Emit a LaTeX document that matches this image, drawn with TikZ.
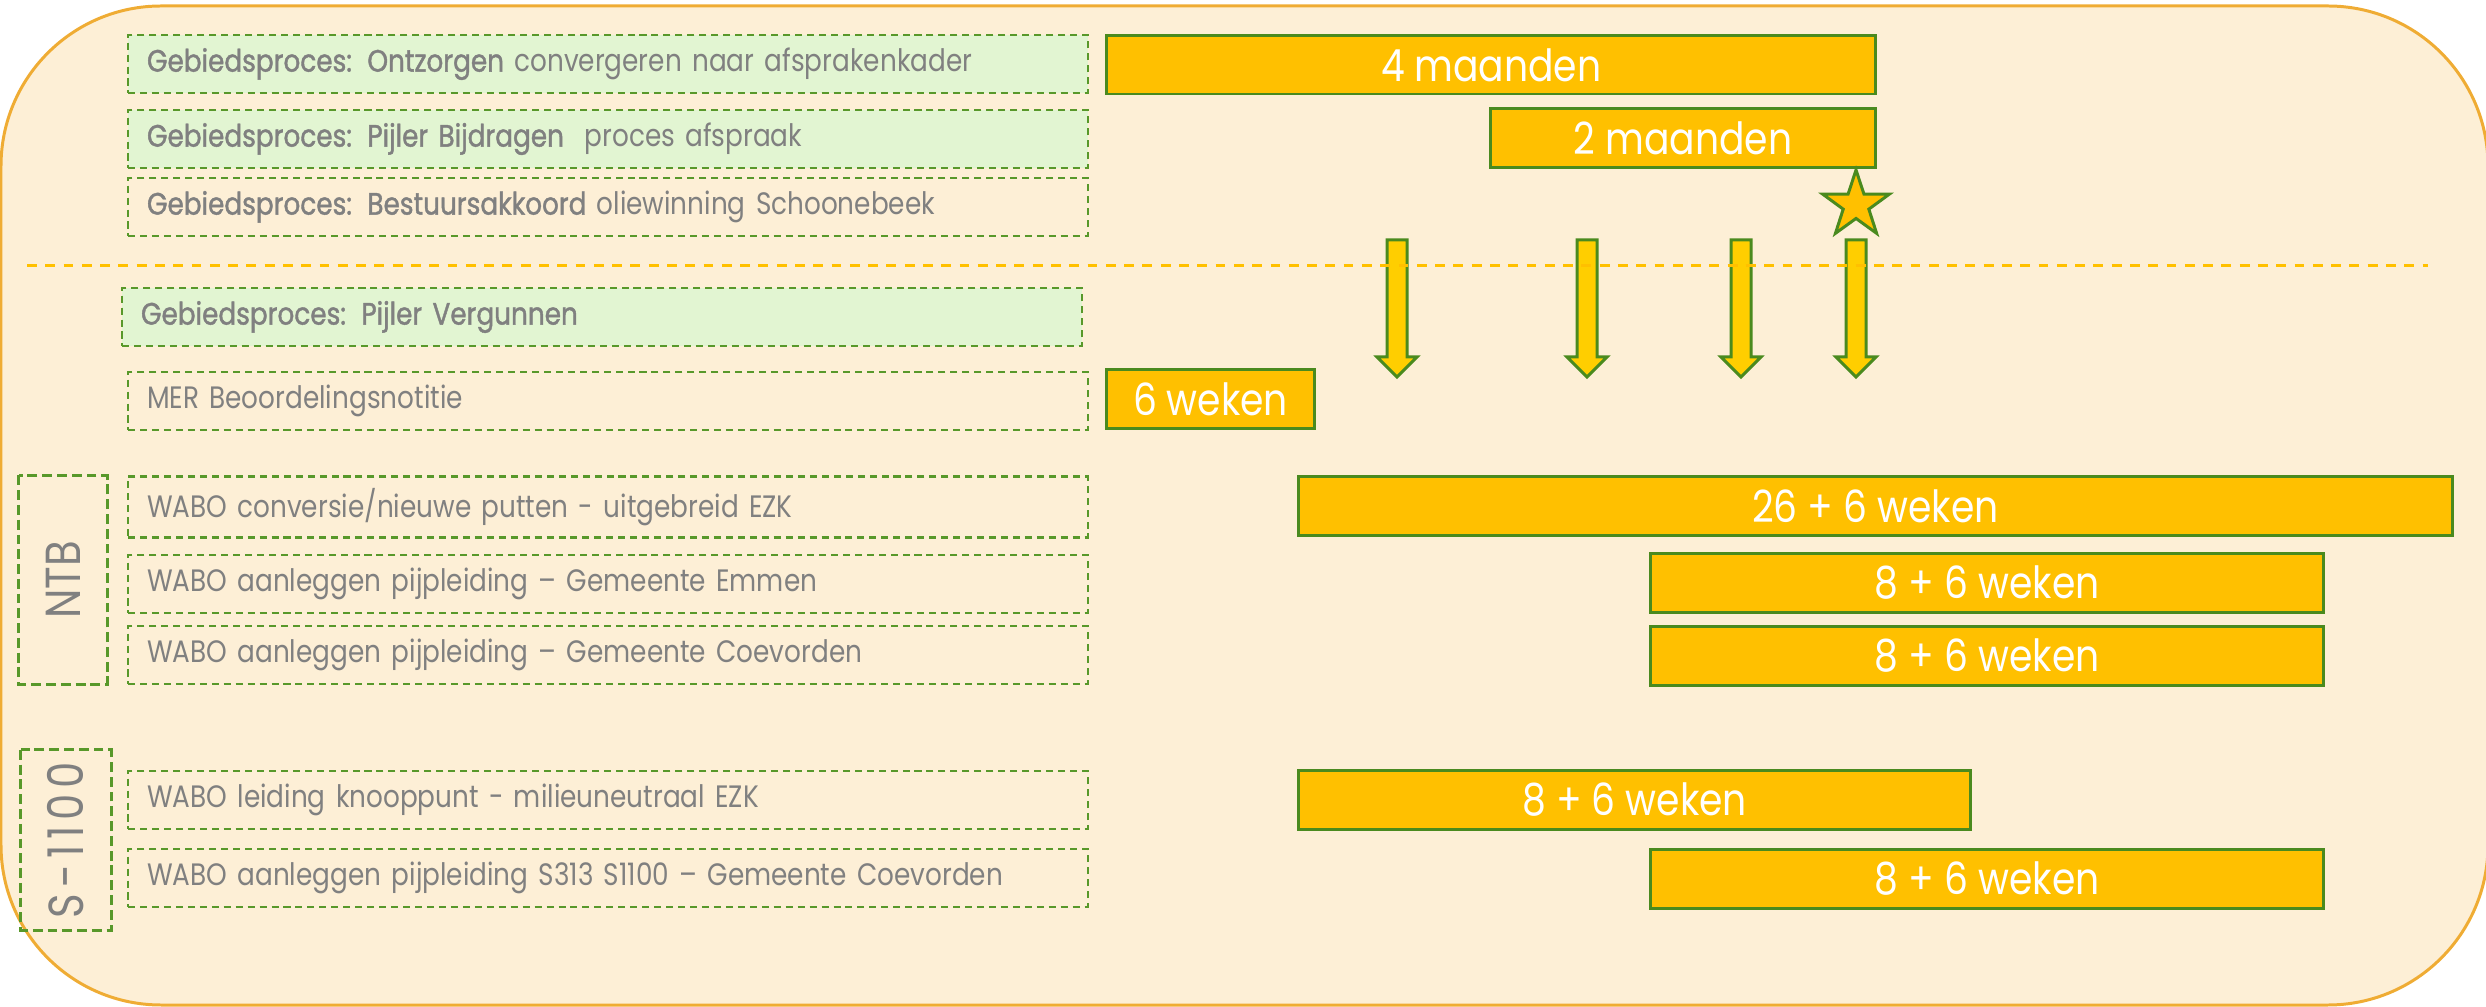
\documentclass[tikz,border=0pt]{standalone}
\usepackage{fontspec}
\setmainfont{Poppins}[FakeStretch=0.85, BoldFont={Poppins}, BoldFeatures={FakeBold=1.3}]
\usepackage{tikz}
\usetikzlibrary{positioning,shapes.geometric}
\definecolor{cream}{RGB}{253,239,214}
\definecolor{frameorange}{RGB}{239,172,52}
\definecolor{gold}{RGB}{255,192,0}
\definecolor{arrowgold}{RGB}{255,206,0}
\definecolor{lightgreen}{RGB}{226,245,210}
\definecolor{dashgreen}{RGB}{88,152,42}
\definecolor{bargreen}{RGB}{74,138,30}
\definecolor{textgray}{RGB}{128,128,128}

\begin{document}
\begin{tikzpicture}[x=0.01cm, y=-0.01cm]
    \tikzstyle{task} = [rectangle, draw=dashgreen, line width=0.6pt, dash pattern=on 2pt off 1.4pt, minimum width=9.59cm, minimum height=0.58cm, text width=9.21cm, inner xsep=0.19cm, align=left, anchor=west, text=textgray, font=\fontsize{8.8}{10}\selectfont]
    \tikzstyle{pillar} = [task, fill=lightgreen]
    \tikzstyle{group} = [rectangle, draw=dashgreen, line width=0.85pt, dash pattern=on 2.8pt off 1.4pt, rotate=90, text=textgray, font=\fontsize{14}{16}\selectfont]
    \tikzstyle{period} = [rectangle, draw=bargreen, line width=0.85pt, fill=gold, minimum height=0.58cm, anchor=west, inner sep=0pt, text=white, font=\fontsize{12.6}{15}\selectfont]

    \useasboundingbox (0,0) rectangle (2486,1007);
    \draw [fill=cream, draw=frameorange, line width=0.85pt, rounded corners=1.6cm] (1,6) rectangle (2488,1005);

    % Tasks
    \node [pillar] (ontzorgen) at (127,64) {\textbf{Gebiedsproces: Ontzorgen} convergeren naar afsprakenkader};
    \node [pillar] (bijdragen) at (127,139) {\textbf{Gebiedsproces: Pijler Bijdragen}\ \ proces afspraak};
    \node [task] (akkoord) at (127,207) {\textbf{Gebiedsproces: Bestuursakkoord} oliewinning Schoonebeek};
    \node [pillar] (vergunnen) at (121,317) {\textbf{Gebiedsproces: Pijler Vergunnen}};
    \node [task] (mer) at (127,401) {MER Beoordelingsnotitie};
    \node [task] (conversie) at (127,507) {WABO conversie/nieuwe putten - uitgebreid EZK};
    \node [task] (emmen) at (127,584) {WABO aanleggen pijpleiding -- Gemeente Emmen};
    \node [task] (coevorden) at (127,655) {WABO aanleggen pijpleiding -- Gemeente Coevorden};
    \node [task] (knooppunt) at (127,800) {WABO leiding knooppunt - milieuneutraal EZK};
    \node [task] (leiding) at (127,878) {WABO aanleggen pijpleiding S313 S1100 -- Gemeente Coevorden};

    % Groups
    \node [group, minimum width=2.09cm, minimum height=0.88cm] (ntb) at (63,580) {NTB};
    \node [group, minimum width=1.80cm, minimum height=0.90cm] (s1100) at (66,840) {\addfontfeature{LetterSpace=12}S-1100};

    % Periods
    \node [period, minimum width=7.69cm] (p4m) at (1105,65) {4 maanden};
    \node [period, minimum width=3.85cm] (p2m) at (1489,138) {2 maanden};
    \node [period, minimum width=2.08cm] (p6w) at (1105,399) {6 weken};
    \node [period, minimum width=11.53cm] (pconv) at (1297,506) {26 + 6 weken};
    \node [period, minimum width=6.73cm] (pemmen) at (1649,583) {8 + 6 weken};
    \node [period, minimum width=6.73cm] (pcoev) at (1649,656) {8 + 6 weken};
    \node [period, minimum width=6.72cm] (pknoop) at (1297,800) {8 + 6 weken};
    \node [period, minimum width=6.73cm] (pleiding) at (1649,879) {8 + 6 weken};

    % Milestone
    \node [star, star points=5, star point ratio=2.6, minimum size=0.7cm, inner sep=0pt, draw=bargreen, line width=0.85pt, fill=gold] (milestone) at (1856,205) {};

    % Arrows
    \foreach \ax in {1397,1587,1741,1856}
        \draw [draw=bargreen, line width=0.85pt, fill=arrowgold] (\ax-10,240) -- (\ax+10,240) -- (\ax+10,357) -- (\ax+20,357) -- (\ax,377) -- (\ax-20,357) -- (\ax-10,357) -- cycle;

    % Separator
    \draw [gold, line width=0.85pt, dash pattern=on 2.8pt off 2.4pt] (27,266) -- (2428,266);
\end{tikzpicture}
\end{document}
